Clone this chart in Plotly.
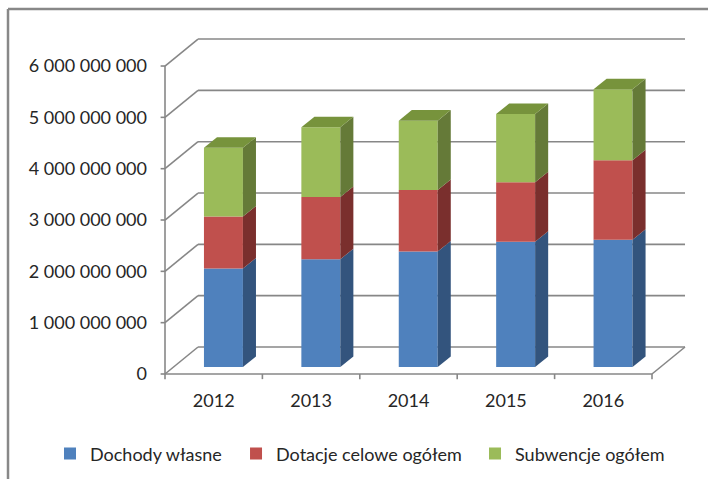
import plotly.graph_objects as go

# ── data ─────────────────────────────────────────
years = ["2012", "2013", "2014", "2015", "2016"]
dochody_wlasne = [1_920_000_000, 2_100_000_000, 2_250_000_000, 2_440_000_000, 2_480_000_000]
dotacje_celowe = [1_010_000_000, 1_210_000_000, 1_200_000_000, 1_160_000_000, 1_550_000_000]
subwencje = [1_340_000_000, 1_360_000_000, 1_350_000_000, 1_330_000_000, 1_380_000_000]
y_ticks = [0, 1_000_000_000, 2_000_000_000, 3_000_000_000,
           4_000_000_000, 5_000_000_000, 6_000_000_000]

# name, values, front / side / top colour, legend id, legend x (paper)
series = [
    ("Dochody własne", dochody_wlasne, "#4F81BD", "#33547D", "#3F6A9C", "legend", -0.2056),
    ("Dotacje celowe ogółem", dotacje_celowe, "#C0504D", "#7A2F2D", "#9A3D3A", "legend2", 0.1421),
    ("Subwencje ogółem", subwencje, "#9BBB59", "#657A38", "#77933C", "legend3", 0.5888),
]

# ── fake-3D geometry (category units / value units) ──
FLOOR_DX, FLOOR_DY = 0.339, 0.526e9      # back wall offset
BAR_DX, BAR_DY = 0.10, 0.136e9           # bar front plane offset
BAR_W = 0.40
DEPTH_DX, DEPTH_DY = 0.134, 0.205e9      # bar depth
GRID = "#878787"
FONT = "Lato"

n = len(years)
left, right = -0.5, n - 0.5

fig = go.Figure()

# grid on the back wall + left wall diagonals (below bars)
for v in y_ticks:
    fig.add_shape(type="line", xref="x", yref="y", layer="below",
                  x0=left + FLOOR_DX, x1=right + FLOOR_DX,
                  y0=v + FLOOR_DY, y1=v + FLOOR_DY,
                  line=dict(color=GRID, width=1.6))
    fig.add_shape(type="line", xref="x", yref="y", layer="below",
                  x0=left, x1=left + FLOOR_DX, y0=v, y1=v + FLOOR_DY,
                  line=dict(color=GRID, width=1.6))
    fig.add_shape(type="line", xref="x", yref="y", layer="below",
                  x0=left - 0.045, x1=left, y0=v, y1=v,
                  line=dict(color=GRID, width=1.6))

# floor front + right edge, front value axis
for x0, y0, x1, y1 in [(left, 0, right, 0),
                       (right, 0, right + FLOOR_DX, FLOOR_DY),
                       (left, 0, left, y_ticks[-1])]:
    fig.add_shape(type="line", xref="x", yref="y", layer="below",
                  x0=x0, x1=x1, y0=y0, y1=y1,
                  line=dict(color=GRID, width=1.6))

# category tick marks on boundaries
for i in range(n + 1):
    fig.add_shape(type="line", xref="x", yref="y", layer="below",
                  x0=left + i, x1=left + i, y0=0, y1=-0.1e9,
                  line=dict(color=GRID, width=1.6))

# ── bars: front faces as Bar, side/top faces as filled polygons ──
base = [BAR_DY] * n
legends = {}
for idx, (name, vals, front, side, top, leg, leg_x) in enumerate(series):
    xs = [i + BAR_DX for i in range(n)]
    fig.add_trace(go.Bar(
        x=xs, y=vals, base=base, width=BAR_W, name=name, legend=leg,
        marker=dict(color=front, line=dict(width=0)),
    ))
    legends[leg] = dict(orientation="h", x=leg_x, xanchor="left",
                        y=-0.211, yanchor="middle", bgcolor="rgba(0,0,0,0)",
                        font=dict(family=FONT, size=18, color="#262626"))
    for i in range(n):
        xr = xs[i] + BAR_W / 2
        xl = xs[i] - BAR_W / 2
        y0, y1 = base[i], base[i] + vals[i]
        fig.add_trace(go.Scatter(
            x=[xr, xr + DEPTH_DX, xr + DEPTH_DX, xr, xr],
            y=[y0, y0 + DEPTH_DY, y1 + DEPTH_DY, y1, y0],
            fill="toself", fillcolor=side, mode="lines", line=dict(width=0),
            showlegend=False, hoverinfo="skip",
        ))
        if idx == len(series) - 1:
            fig.add_trace(go.Scatter(
                x=[xl, xr, xr + DEPTH_DX, xl + DEPTH_DX, xl],
                y=[y1, y1, y1 + DEPTH_DY, y1 + DEPTH_DY, y1],
                fill="toself", fillcolor=top, mode="lines", line=dict(width=0),
                showlegend=False, hoverinfo="skip",
            ))
    base = [b + v for b, v in zip(base, vals)]

# chart frame (top + left edge)
fig.add_shape(type="line", xref="paper", yref="paper",
              x0=-0.2841, x1=1.03, y0=1.06, y1=1.06,
              line=dict(color="#888888", width=2.5))
fig.add_shape(type="line", xref="paper", yref="paper",
              x0=-0.2841, x1=-0.2841, y0=1.06, y1=-0.3,
              line=dict(color="#888888", width=2.5))

fig.update_layout(
    width=708, height=479,
    barmode="overlay",
    paper_bgcolor="white", plot_bgcolor="white",
    margin=dict(l=160, r=13, t=30, b=99, autoexpand=False),
    font=dict(family=FONT, size=18, color="#262626"),
    showlegend=True,
    **legends,
)
fig.update_xaxes(range=[-0.5513, 4.9415], tickvals=list(range(n)), ticktext=years,
                 showgrid=False, zeroline=False, showline=False, ticks="",
                 ticklabelstandoff=8, fixedrange=True)
fig.update_yaxes(range=[-0.1169e9, 6.7018e9], tickvals=y_ticks,
                 ticktext=[f"{v:,}".replace(",", " ") for v in y_ticks],
                 showgrid=False, zeroline=False, showline=False, ticks="",
                 ticklabelstandoff=12, fixedrange=True)

fig.write_html("out.html", config={"displayModeBar": False},
               post_script="document.body.style.margin='0';")
